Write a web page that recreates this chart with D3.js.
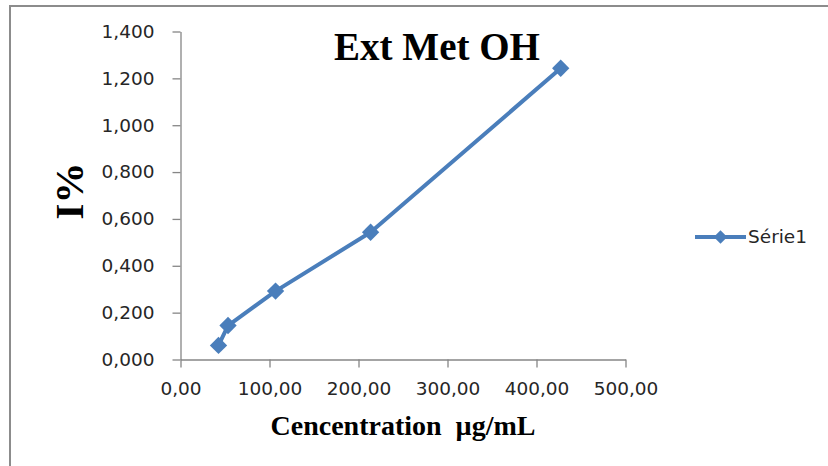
<!DOCTYPE html>
<html>
<head>
<meta charset="utf-8">
<script src="https://cdn.jsdelivr.net/npm/d3@7"></script>
<style>
  html, body { margin: 0; padding: 0; background: #fff; }
  svg { display: block; }
</style>
</head>
<body>
<svg id="chart" width="828" height="466"></svg>
<script>
// Concentration (µg/mL) and inhibition I% for the methanolic extract
const concentrations = [42.7, 53.4, 106.8, 213.6, 427.2];
const inhibition = [0.060, 0.145, 0.292, 0.543, 1.243];
const xTicks = [0, 100, 200, 300, 400, 500];
const yTicks = [0, 0.2, 0.4, 0.6, 0.8, 1.0, 1.2, 1.4];
const seriesName = "Série1";
const chartTitle = "Ext Met OH";
const xTitle = "Cencentration  µg/mL";
const yTitle = "I%";

const svg = d3.select("#chart");
const blue = "#4a7ebb";
const axisGrey = "#868686";
const sans = "'DejaVu Sans', Verdana, sans-serif";
const serif = "'Liberation Serif', 'Times New Roman', serif";

// Frame: only the top and left edges are visible
svg.append("line").attr("x1", 9).attr("x2", 828).attr("y1", 6).attr("y2", 6)
  .attr("stroke", "#8c8c8c").attr("stroke-width", 2);
svg.append("line").attr("x1", 10).attr("x2", 10).attr("y1", 5).attr("y2", 466)
  .attr("stroke", "#8c8c8c").attr("stroke-width", 2);

const x = d3.scaleLinear().domain([0, 500]).range([180.5, 625.5]);
const y = d3.scaleLinear().domain([0, 1.4]).range([359.5, 31.5]);

const fmtX = v => d3.format(".2f")(v).replace(".", ",");
const fmtY = v => d3.format(",.3f")(v).replace(".", ",");

// Y axis
const yAxis = svg.append("g").attr("transform", `translate(${x(0)},0)`)
  .call(d3.axisLeft(y).tickValues(yTicks).tickSize(8).tickSizeOuter(0).tickPadding(18).tickFormat(fmtY));
// X axis
const xAxis = svg.append("g").attr("transform", `translate(0,${y(0)})`)
  .call(d3.axisBottom(x).tickValues(xTicks).tickSize(8).tickSizeOuter(0).tickPadding(14).tickFormat(fmtX));

[yAxis, xAxis].forEach(g => {
  g.select(".domain").attr("stroke", axisGrey).attr("stroke-width", 1.3);
  g.selectAll(".tick line").attr("stroke", axisGrey).attr("stroke-width", 1.3);
  g.selectAll(".tick text").attr("fill", "#262626")
    .style("font-family", sans).style("font-size", "18.5px");
});

// Series line
const pts = concentrations.map((c, i) => [c, inhibition[i]]);
svg.append("path")
  .datum(pts)
  .attr("fill", "none")
  .attr("stroke", blue)
  .attr("stroke-width", 4)
  .attr("stroke-linejoin", "round")
  .attr("d", d3.line().x(d => x(d[0])).y(d => y(d[1])));

// Diamond markers
const diamond = d3.symbol().type(d3.symbolSquare).size(150);
svg.selectAll(".marker").data(pts).enter().append("path")
  .attr("class", "marker")
  .attr("d", diamond)
  .attr("fill", blue)
  .attr("transform", d => `translate(${x(d[0])},${y(d[1])}) rotate(45)`);

// Title
svg.append("text").attr("x", 437).attr("y", 60).attr("text-anchor", "middle")
  .style("font-family", serif).style("font-weight", "bold").style("font-size", "39px")
  .attr("fill", "#000").text(chartTitle);

// Axis titles
svg.append("text").attr("x", 403).attr("y", 435).attr("text-anchor", "middle")
  .style("font-family", serif).style("font-weight", "bold").style("font-size", "28px")
  .style("white-space", "pre")
  .attr("fill", "#000").text(xTitle);

svg.append("text").attr("transform", "translate(83,191) rotate(-90)").attr("text-anchor", "middle")
  .style("font-family", serif).style("font-weight", "bold").style("font-size", "41px")
  .attr("fill", "#000").text(yTitle);

// Legend
const lg = svg.append("g").attr("transform", "translate(695,237)");
lg.append("line").attr("x1", 0).attr("x2", 51).attr("y1", 0).attr("y2", 0)
  .attr("stroke", blue).attr("stroke-width", 4);
lg.append("path").attr("d", d3.symbol().type(d3.symbolSquare).size(90))
  .attr("fill", blue).attr("transform", "translate(25.5,0) rotate(45)");
lg.append("text").attr("x", 53).attr("y", 0).attr("dy", "0.35em")
  .style("font-family", sans).style("font-size", "18.5px").attr("fill", "#262626")
  .text(seriesName);
</script>
</body>
</html>
